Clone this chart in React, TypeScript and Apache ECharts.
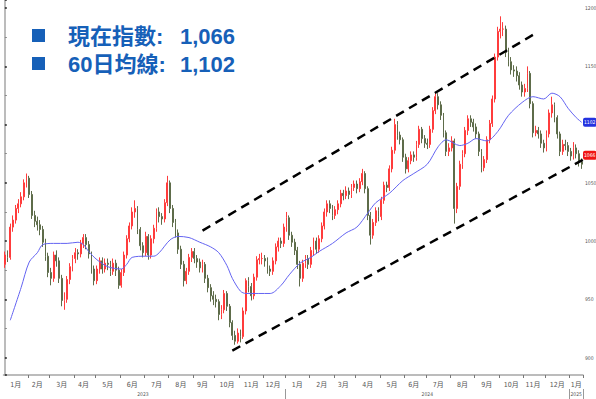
import React, { useEffect, useRef } from "react";
import * as echarts from "echarts";

// Candles: every Monday and Thursday from start to end
const startDate = "2023-01-02";
const endDate = "2025-01-16";

// [open, close, low, high]
const ohlc2023 = [
  [980, 988, 977, 991], [988, 986, 982, 992], [986, 1012, 984, 1015], [1012, 1018, 1008, 1022], [1018, 1028, 1015, 1031],
  [1028, 1032, 1024, 1036], [1032, 1038, 1029, 1042], [1038, 1050, 1035, 1053], [1050, 1054, 1046, 1058], [1054, 1040, 1037, 1056],
  [1040, 1022, 1019, 1043], [1022, 1017, 1012, 1026], [1017, 1014, 1009, 1021], [1014, 1010, 1005, 1018], [1010, 999, 995, 1013],
  [999, 987, 983, 1002], [987, 973, 969, 990], [973, 968, 962, 977], [968, 988, 965, 991], [988, 983, 978, 992],
  [983, 968, 964, 986], [968, 949, 944, 971], [949, 950, 941, 956], [950, 967, 947, 970], [967, 978, 963, 981],
  [978, 985, 974, 988], [985, 990, 981, 994], [990, 989, 984, 993], [989, 998, 986, 1001], [998, 1003, 994, 1006],
  [1003, 997, 993, 1006], [997, 989, 985, 1000], [989, 976, 972, 991], [976, 966, 962, 979], [966, 976, 963, 979],
  [976, 983, 972, 986], [983, 976, 972, 986], [976, 981, 973, 985], [981, 980, 975, 985], [980, 974, 970, 983],
  [974, 981, 971, 985], [981, 975, 970, 984], [975, 962, 959, 978], [962, 973, 960, 976], [973, 988, 970, 991],
  [988, 1002, 985, 1005], [1002, 1013, 999, 1016], [1013, 1025, 1010, 1029], [1025, 1028, 1020, 1035], [1028, 1010, 1006, 1030],
  [1010, 996, 992, 1012], [996, 990, 986, 999], [990, 1004, 987, 1008], [1004, 988, 984, 1006], [988, 1002, 985, 1005],
  [1002, 1011, 998, 1014], [1011, 1025, 1008, 1028], [1025, 1021, 1016, 1029], [1021, 1019, 1014, 1024], [1019, 1033, 1016, 1036],
  [1033, 1050, 1030, 1056], [1050, 1028, 1024, 1052], [1028, 1016, 1012, 1031], [1016, 1007, 1003, 1019], [1007, 993, 989, 1010],
  [993, 980, 976, 996], [980, 966, 961, 983], [966, 974, 963, 977], [974, 986, 971, 989], [986, 991, 982, 994],
  [991, 985, 981, 994], [985, 982, 977, 988], [982, 977, 973, 985], [977, 980, 973, 984], [980, 968, 964, 982],
  [968, 960, 956, 971], [960, 953, 948, 963], [953, 950, 945, 957], [950, 948, 943, 954], [948, 937, 932, 950],
  [937, 941, 933, 945], [941, 955, 938, 958], [955, 944, 940, 957], [944, 930, 926, 946], [930, 919, 915, 932],
  [919, 914, 911, 923], [914, 921, 912, 925], [921, 918, 913, 924], [918, 940, 916, 943], [940, 966, 937, 968],
  [966, 961, 956, 969], [961, 953, 949, 964], [953, 969, 950, 972], [969, 984, 966, 987], [984, 985, 980, 989],
  [985, 985, 980, 990], [985, 983, 978, 988], [983, 976, 972, 986], [976, 974, 970, 979], [974, 983, 971, 986],
  [983, 995, 980, 998], [995, 1000, 991, 1003], [1000, 998, 994, 1003], [998, 1012, 995, 1015],
];
const ohlc2024 = [
  [1012, 1020, 1008, 1025], [1020, 1005, 1001, 1022], [1005, 999, 995, 1008], [999, 992, 988, 1002], [992, 980, 976, 995],
  [980, 968, 961, 983], [968, 981, 965, 984], [981, 985, 977, 988], [985, 980, 976, 988], [980, 992, 977, 995],
  [992, 1000, 988, 1003], [1000, 993, 989, 1003], [993, 1002, 990, 1005], [1002, 1013, 999, 1016], [1013, 1025, 1010, 1028],
  [1025, 1032, 1021, 1035], [1032, 1028, 1024, 1035], [1028, 1022, 1018, 1031], [1022, 1027, 1019, 1030], [1027, 1032, 1023, 1035],
  [1032, 1041, 1029, 1044], [1041, 1039, 1035, 1044], [1039, 1043, 1036, 1047], [1043, 1040, 1036, 1046], [1040, 1046, 1037, 1049],
  [1046, 1049, 1043, 1052], [1049, 1045, 1041, 1052], [1045, 1051, 1042, 1054], [1051, 1058, 1048, 1062], [1058, 1045, 1041, 1060],
  [1045, 1022, 1018, 1047], [1022, 1005, 997, 1025], [1005, 1016, 1002, 1019], [1016, 1026, 1013, 1029], [1026, 1021, 1017, 1029],
  [1021, 1035, 1018, 1038], [1035, 1048, 1032, 1051], [1048, 1046, 1042, 1051], [1046, 1062, 1043, 1065], [1062, 1078, 1059, 1081],
  [1078, 1100, 1075, 1105], [1100, 1091, 1087, 1103], [1091, 1087, 1083, 1094], [1087, 1072, 1068, 1089], [1072, 1062, 1058, 1075],
  [1062, 1069, 1059, 1072], [1069, 1074, 1066, 1077], [1074, 1072, 1068, 1077], [1072, 1083, 1069, 1086], [1083, 1096, 1080, 1099],
  [1096, 1088, 1084, 1098], [1088, 1084, 1080, 1091], [1084, 1083, 1079, 1088], [1083, 1096, 1080, 1099], [1096, 1112, 1093, 1115],
  [1112, 1124, 1109, 1128], [1124, 1117, 1113, 1127], [1117, 1108, 1104, 1120], [1108, 1093, 1089, 1110], [1093, 1077, 1073, 1095],
  [1077, 1080, 1073, 1084], [1080, 1086, 1077, 1090], [1086, 1028, 1015, 1088], [1028, 1047, 1024, 1050], [1047, 1066, 1044, 1069],
  [1066, 1075, 1062, 1078], [1075, 1095, 1072, 1098], [1095, 1105, 1091, 1108], [1105, 1102, 1098, 1108], [1102, 1098, 1094, 1105],
  [1098, 1092, 1088, 1101], [1092, 1077, 1073, 1094], [1077, 1063, 1059, 1079], [1063, 1070, 1060, 1073], [1070, 1087, 1067, 1090],
  [1087, 1101, 1084, 1104], [1101, 1122, 1098, 1125], [1122, 1158, 1119, 1161], [1158, 1180, 1155, 1184], [1180, 1182, 1174, 1193],
  [1182, 1182, 1176, 1188], [1182, 1162, 1158, 1185], [1162, 1154, 1150, 1166], [1154, 1147, 1143, 1158], [1147, 1146, 1141, 1151],
  [1146, 1142, 1137, 1150], [1142, 1134, 1130, 1145], [1134, 1128, 1124, 1137], [1128, 1131, 1124, 1135], [1131, 1144, 1128, 1150],
  [1144, 1118, 1114, 1146], [1118, 1093, 1089, 1120], [1093, 1095, 1090, 1099], [1095, 1092, 1088, 1098], [1092, 1084, 1080, 1095],
  [1084, 1080, 1076, 1087], [1080, 1092, 1077, 1095], [1092, 1110, 1089, 1113], [1110, 1117, 1106, 1124], [1117, 1106, 1102, 1119],
  [1106, 1092, 1088, 1108], [1092, 1077, 1073, 1094], [1077, 1083, 1074, 1087], [1083, 1082, 1078, 1087], [1082, 1077, 1073, 1085],
];
const ohlc2025 = [
  [1077, 1073, 1069, 1080], [1073, 1080, 1070, 1085], [1080, 1075, 1071, 1083], [1075, 1068, 1064, 1078], [1068, 1066, 1062, 1071],
];

// 60-day moving average read at candle indices: [candleIndex, value]
const maPoints = [
  [2, 932], [6, 960], [9, 982], [12, 990], [14, 997], [18, 998], [23, 998], [27, 999], [29, 997], [31, 991],
  [34, 984], [38, 978], [43, 976], [45, 980], [47, 986], [52, 987], [55, 987], [57, 990], [61, 1001], [64, 1004],
  [68, 1003], [72, 999], [76, 995], [79, 990], [82, 979], [84, 968], [87, 957], [89, 955], [98, 955], [102, 962],
  [105, 971], [109, 981], [113, 986], [116, 991], [121, 998], [126, 1007], [130, 1012], [134, 1024], [137, 1033], [142, 1041],
  [147, 1052], [151, 1058], [156, 1066], [160, 1081], [163, 1087], [168, 1082], [171, 1084], [174, 1088], [178, 1086], [182, 1094],
  [186, 1108], [191, 1119], [195, 1124], [199, 1122], [202, 1127], [205, 1124], [208, 1114], [211, 1106], [213, 1102],
];

// Trend channel (candle index, value)
const channelUpper = [[73, 1009], [195, 1177]];
const channelLower = [[84, 906], [216, 1073]];

const yMin = 885;
const yMax = 1207;

const BLUE = "#1660b8";
const AXIS_FONT = "'Liberation Sans Narrow', 'DejaVu Sans Condensed', 'Liberation Sans', 'Noto Sans CJK TC', sans-serif";
const LEGEND_FONT = "'Liberation Sans', 'Noto Sans CJK TC', sans-serif";

function buildDates(): string[] {
  const out: string[] = [];
  const d = new Date(startDate + "T00:00:00Z");
  const end = new Date(endDate + "T00:00:00Z");
  while (d <= end) {
    const wd = d.getUTCDay();
    if (wd === 1 || wd === 4) out.push(d.toISOString().slice(0, 10));
    d.setUTCDate(d.getUTCDate() + 1);
  }
  return out;
}

export default function App() {
  const ref = useRef<HTMLDivElement>(null);

  useEffect(() => {
    if (!ref.current) return;
    const chart = echarts.init(ref.current, undefined, { renderer: "svg" });

    const dates = buildDates();
    const ohlc = [...ohlc2023, ...ohlc2024, ...ohlc2025];
    const n = Math.min(dates.length, ohlc.length);
    const cats = dates.slice(0, n);
    const candleData = ohlc.slice(0, n);

    const monthGroups: Record<string, number[]> = {};
    const yearGroups: Record<string, number[]> = {};
    cats.forEach((d, i) => {
      const m = d.slice(0, 7);
      const y = d.slice(0, 4);
      (monthGroups[m] = monthGroups[m] || []).push(i);
      (yearGroups[y] = yearGroups[y] || []).push(i);
    });
    const monthLabelIdx = new Set<number>();
    const monthTickIdx = new Set<number>();
    Object.values(monthGroups).forEach((g) => {
      monthLabelIdx.add(g[Math.floor((g.length - 1) / 2)]);
      if (g[0] !== 0) monthTickIdx.add(g[0]);
    });
    const yearLabelIdx = new Set<number>();
    const yearTickIdx = new Set<number>();
    Object.values(yearGroups).forEach((g) => {
      yearLabelIdx.add(g[Math.floor((g.length - 1) / 2)]);
      if (g[0] !== 0) yearTickIdx.add(g[0]);
    });

    const lastClose = candleData[candleData.length - 1][1];
    const lastMa = maPoints[maPoints.length - 1][1];

    const fmt = (v: number) => v.toLocaleString("en-US");

    chart.setOption({
      animation: false,
      backgroundColor: "#ffffff",
      grid: { left: 3.5, right: 13, top: 0, bottom: 24, outerBoundsMode: "none" },
      xAxis: [
        {
          type: "category",
          data: cats,
          gridIndex: 0,
          position: "bottom",
          axisLine: { show: true, lineStyle: { color: "#a6a6a6", width: 1.5 } },
          axisTick: {
            show: true,
            interval: (i: number) => monthTickIdx.has(i),
            length: 3,
            lineStyle: { color: "#777", width: 1 },
          },
          axisLabel: {
            interval: (i: number) => monthLabelIdx.has(i),
            formatter: (v: string) => `${parseInt(v.slice(5, 7), 10)}月`,
            fontSize: 7,
            color: "#555",
            margin: 6,
            fontFamily: AXIS_FONT,
          },
          splitLine: { show: false },
        },
        {
          type: "category",
          data: cats,
          gridIndex: 0,
          position: "bottom",
          offset: 14,
          axisLine: { show: false },
          axisTick: {
            show: true,
            interval: (i: number) => yearTickIdx.has(i),
            length: 10,
            lineStyle: { color: "#999", width: 1 },
          },
          axisLabel: {
            interval: (i: number) => yearLabelIdx.has(i),
            formatter: (v: string) => v.slice(0, 4),
            fontSize: 5,
            color: "#555",
            margin: 2,
            fontFamily: AXIS_FONT,
          },
          splitLine: { show: false },
        },
        {
          type: "value",
          gridIndex: 0,
          min: -0.5,
          max: n - 0.5,
          show: false,
        },
      ],
      yAxis: {
        type: "value",
        position: "right",
        min: yMin,
        max: yMax,
        splitNumber: 6,
        axisLine: { show: true, lineStyle: { color: "#a6a6a6", width: 1.5 } },
        axisTick: { show: true, length: 2, lineStyle: { color: "#222", width: 1.5 } },
        minorTick: { show: true, splitNumber: 2, length: 2, lineStyle: { color: "#888" } },
        splitLine: { show: false },
        axisLabel: {
          formatter: (v: number) => (v % 50 === 0 && Math.abs(v - lastMa) > 8 ? String(v) : ""),
          fontSize: 5,
          color: "#555",
          margin: 2,
          fontFamily: AXIS_FONT,
        },
      },
      series: [
        {
          type: "candlestick",
          xAxisIndex: 0,
          data: candleData,
          barMaxWidth: 1.6,
          itemStyle: {
            color: "#ff3c3c",
            color0: "#5e6c4a",
            borderColor: "#ff3c3c",
            borderColor0: "#5e6c4a",
            borderWidth: 1,
          },
        },
        {
          type: "line",
          xAxisIndex: 0,
          data: maPoints,
          connectNulls: true,
          smooth: 0.3,
          showSymbol: false,
          symbol: "none",
          clip: false,
          lineStyle: { color: "#6464f2", width: 1 },
          markLine: {
            silent: true,
            symbol: "none",
            animation: false,
            lineStyle: { color: "rgba(0,0,0,0)", width: 0 },
            label: {
              position: "end",
              distance: 0,
              color: "#ffffff",
              fontSize: 5,
              padding: [2, 1, 2, 1],
              borderRadius: 2,
              fontFamily: AXIS_FONT,
            },
            data: [
              { yAxis: lastMa, label: { formatter: String(lastMa), backgroundColor: "#2433e0" } },
              { yAxis: lastClose, label: { formatter: String(lastClose), backgroundColor: "#f01414", offset: [0, -9] } },
            ],
          },
        },
        {
          type: "line",
          xAxisIndex: 2,
          data: channelUpper,
          symbol: "none",
          clip: false,
          lineStyle: { color: "#000", width: 2.5, type: [9, 6] },
        },
        {
          type: "line",
          xAxisIndex: 2,
          data: channelLower,
          symbol: "none",
          clip: false,
          lineStyle: { color: "#000", width: 2.5, type: [9, 6] },
        },
      ],
      graphic: [
        { type: "rect", left: 32, top: 29, shape: { width: 13, height: 13 }, style: { fill: BLUE } },
        { type: "rect", left: 32, top: 57, shape: { width: 13, height: 13 }, style: { fill: BLUE } },
        {
          type: "text",
          x: 68,
          y: 36,
          style: { text: "現在指數:", fill: BLUE, fontSize: 22, fontWeight: "bold", fontFamily: LEGEND_FONT, verticalAlign: "middle" },
        },
        {
          type: "text",
          x: 180,
          y: 36,
          style: { text: fmt(lastClose), fill: BLUE, fontSize: 22, fontWeight: "bold", fontFamily: LEGEND_FONT, verticalAlign: "middle" },
        },
        {
          type: "text",
          x: 68,
          y: 64,
          style: { text: "60日均線:", fill: BLUE, fontSize: 22, fontWeight: "bold", fontFamily: LEGEND_FONT, verticalAlign: "middle" },
        },
        {
          type: "text",
          x: 180,
          y: 64,
          style: { text: fmt(lastMa), fill: BLUE, fontSize: 22, fontWeight: "bold", fontFamily: LEGEND_FONT, verticalAlign: "middle" },
        },
      ],
    });

    return () => chart.dispose();
  }, []);

  return <div ref={ref} style={{ position: "fixed", left: 0, top: 0, width: 596, height: 399 }} />;
}
